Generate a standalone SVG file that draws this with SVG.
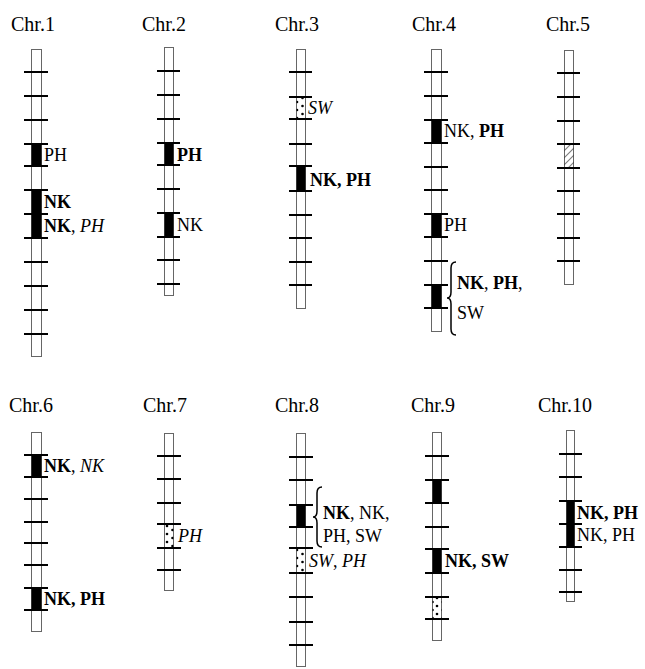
<svg xmlns="http://www.w3.org/2000/svg" width="645" height="669" viewBox="0 0 645 669">
<style>
.title{font-family:"Liberation Serif","Times New Roman",Tinos,"DejaVu Serif",serif;font-size:20px;fill:#000}
.lab{font-family:"Liberation Serif","Times New Roman",Tinos,"DejaVu Serif",serif;font-size:18px;fill:#000}
.b{font-weight:bold}
.i{font-style:italic}
.chr{fill:#fff;stroke:#666;stroke-width:1}
.tick{stroke:#000;stroke-width:2}
.blk{fill:#000}
.dot{fill:url(#dots)}
.hat{fill:url(#hatch)}
.brace{fill:none;stroke:#000;stroke-width:1.5}
</style>
<defs>
<pattern id="dots" patternUnits="userSpaceOnUse" width="10" height="8">
<circle cx="2.5" cy="2" r="1.3" fill="#000"/>
<circle cx="7" cy="6" r="1.3" fill="#000"/>
</pattern>
<pattern id="hatch" patternUnits="userSpaceOnUse" width="5" height="5" patternTransform="rotate(45)">
<line x1="0" y1="0" x2="0" y2="5" stroke="#000" stroke-width="1"/>
</pattern>
</defs>
<rect width="645" height="669" fill="#fff"/>

<g id="chr1">
<text class="title" x="11" y="31">Chr.1</text>
<rect class="chr" x="31.5" y="49.5" width="10" height="307"/>
<rect class="blk" x="31.5" y="144" width="10" height="22"/>
<rect class="blk" x="31.5" y="190" width="10" height="48"/>
<g class="tick"><line x1="24" x2="48" y1="72" y2="72"/><line x1="24" x2="48" y1="96" y2="96"/><line x1="24" x2="48" y1="120" y2="120"/><line x1="24" x2="48" y1="144" y2="144"/><line x1="24" x2="48" y1="166" y2="166"/><line x1="24" x2="48" y1="190" y2="190"/><line x1="24" x2="48" y1="214" y2="214"/><line x1="24" x2="48" y1="238" y2="238"/><line x1="24" x2="48" y1="262" y2="262"/><line x1="24" x2="48" y1="286" y2="286"/><line x1="24" x2="48" y1="310" y2="310"/><line x1="24" x2="48" y1="334" y2="334"/></g>
<text class="lab" x="44" y="161">PH</text>
<text class="lab b" x="44" y="208">NK</text>
<text class="lab" x="44" y="232"><tspan class="b">NK</tspan>, <tspan class="i">PH</tspan></text>
</g>

<g id="chr2">
<text class="title" x="142" y="31">Chr.2</text>
<rect class="chr" x="164.5" y="47.5" width="9" height="248"/>
<rect class="blk" x="164.5" y="143" width="9" height="22"/>
<rect class="blk" x="164.5" y="213" width="9" height="24"/>
<g class="tick"><line x1="157" x2="180" y1="71" y2="71"/><line x1="157" x2="180" y1="95" y2="95"/><line x1="157" x2="180" y1="119" y2="119"/><line x1="157" x2="180" y1="143" y2="143"/><line x1="157" x2="180" y1="165" y2="165"/><line x1="157" x2="180" y1="189" y2="189"/><line x1="157" x2="180" y1="213" y2="213"/><line x1="157" x2="180" y1="237" y2="237"/><line x1="157" x2="180" y1="260" y2="260"/><line x1="157" x2="180" y1="284" y2="284"/></g>
<text class="lab b" x="177" y="161">PH</text>
<text class="lab" x="177" y="231">NK</text>
</g>

<g id="chr3">
<text class="title" x="275" y="31">Chr.3</text>
<rect class="chr" x="296.5" y="49.5" width="9" height="259"/>
<rect class="dot" x="296.5" y="97" width="9" height="22"/>
<rect class="blk" x="296.5" y="166" width="9" height="25"/>
<g class="tick"><line x1="289" x2="312" y1="72" y2="72"/><line x1="289" x2="312" y1="97" y2="97"/><line x1="289" x2="312" y1="119" y2="119"/><line x1="289" x2="312" y1="144" y2="144"/><line x1="289" x2="312" y1="166" y2="166"/><line x1="289" x2="312" y1="191" y2="191"/><line x1="289" x2="312" y1="215" y2="215"/><line x1="289" x2="312" y1="238" y2="238"/><line x1="289" x2="312" y1="262" y2="262"/><line x1="289" x2="312" y1="285" y2="285"/></g>
<text class="lab i" x="308" y="114">SW</text>
<text class="lab b" x="310" y="186">NK, PH</text>
</g>

<g id="chr4">
<text class="title" x="412" y="31">Chr.4</text>
<rect class="chr" x="431.5" y="49.5" width="10" height="282"/>
<rect class="blk" x="431.5" y="120" width="10" height="23"/>
<rect class="blk" x="431.5" y="214" width="10" height="23"/>
<rect class="blk" x="431.5" y="285" width="10" height="23"/>
<g class="tick"><line x1="424" x2="448" y1="72" y2="72"/><line x1="424" x2="448" y1="96" y2="96"/><line x1="424" x2="448" y1="120" y2="120"/><line x1="424" x2="448" y1="143" y2="143"/><line x1="424" x2="448" y1="167" y2="167"/><line x1="424" x2="448" y1="190" y2="190"/><line x1="424" x2="448" y1="214" y2="214"/><line x1="424" x2="448" y1="237" y2="237"/><line x1="424" x2="448" y1="261" y2="261"/><line x1="424" x2="448" y1="285" y2="285"/><line x1="424" x2="448" y1="308" y2="308"/></g>
<text class="lab" x="444" y="137">NK, <tspan class="b">PH</tspan></text>
<text class="lab" x="444" y="231">PH</text>
<path class="brace" d="M456,262 Q451,262 451,268 L451,292 Q451,298 447,298 Q451,298 451,304 L451,329 Q451,335 456,335"/>
<text class="lab" x="457" y="289"><tspan class="b">NK</tspan>, <tspan class="b">PH</tspan>,</text>
<text class="lab" x="457" y="319">SW</text>
</g>

<g id="chr5">
<text class="title" x="546" y="31">Chr.5</text>
<rect class="chr" x="564.5" y="50.5" width="9" height="234"/>
<rect class="hat" x="564.5" y="145" width="9" height="22"/>
<g class="tick"><line x1="557" x2="580" y1="73" y2="73"/><line x1="557" x2="580" y1="97" y2="97"/><line x1="557" x2="580" y1="121" y2="121"/><line x1="557" x2="580" y1="144" y2="144"/><line x1="557" x2="580" y1="168" y2="168"/><line x1="557" x2="580" y1="191" y2="191"/><line x1="557" x2="580" y1="214" y2="214"/><line x1="557" x2="580" y1="238" y2="238"/><line x1="557" x2="580" y1="261" y2="261"/></g>
</g>

<g id="chr6">
<text class="title" x="9" y="412">Chr.6</text>
<rect class="chr" x="31.5" y="432.5" width="10" height="199"/>
<rect class="blk" x="31.5" y="455" width="10" height="22"/>
<rect class="blk" x="31.5" y="588" width="10" height="22"/>
<g class="tick"><line x1="24" x2="48" y1="455" y2="455"/><line x1="24" x2="48" y1="477" y2="477"/><line x1="24" x2="48" y1="499" y2="499"/><line x1="24" x2="48" y1="522" y2="522"/><line x1="24" x2="48" y1="543" y2="543"/><line x1="24" x2="48" y1="565" y2="565"/><line x1="24" x2="48" y1="588" y2="588"/><line x1="24" x2="48" y1="610" y2="610"/></g>
<text class="lab" x="44" y="472"><tspan class="b">NK</tspan>, <tspan class="i">NK</tspan></text>
<text class="lab b" x="44" y="605">NK, PH</text>
</g>

<g id="chr7">
<text class="title" x="143" y="412">Chr.7</text>
<rect class="chr" x="164.5" y="433.5" width="9" height="157"/>
<rect class="dot" x="164.5" y="524" width="9" height="24"/>
<g class="tick"><line x1="157" x2="181" y1="456" y2="456"/><line x1="157" x2="181" y1="479" y2="479"/><line x1="157" x2="181" y1="503" y2="503"/><line x1="157" x2="181" y1="524" y2="524"/><line x1="157" x2="181" y1="548" y2="548"/><line x1="157" x2="181" y1="570" y2="570"/></g>
<text class="lab i" x="178" y="542">PH</text>
</g>

<g id="chr8">
<text class="title" x="275" y="412">Chr.8</text>
<rect class="chr" x="296.5" y="433.5" width="9" height="233"/>
<rect class="blk" x="296.5" y="505" width="9" height="22"/>
<rect class="dot" x="296.5" y="548" width="9" height="25"/>
<g class="tick"><line x1="289" x2="313" y1="457" y2="457"/><line x1="289" x2="313" y1="480" y2="480"/><line x1="289" x2="313" y1="505" y2="505"/><line x1="289" x2="313" y1="527" y2="527"/><line x1="289" x2="313" y1="548" y2="548"/><line x1="289" x2="313" y1="573" y2="573"/><line x1="289" x2="313" y1="597" y2="597"/><line x1="289" x2="313" y1="622" y2="622"/><line x1="289" x2="313" y1="645" y2="645"/></g>
<path class="brace" d="M322,487 Q317,487 317,493 L317,511 Q317,517 313,517 Q317,517 317,523 L317,541 Q317,547 322,547"/>
<text class="lab" x="323" y="519"><tspan class="b">NK</tspan>, NK,</text>
<text class="lab" x="323" y="542">PH, SW</text>
<text class="lab" x="309" y="567"><tspan class="i">SW</tspan>, <tspan class="i">PH</tspan></text>
</g>

<g id="chr9">
<text class="title" x="411" y="412">Chr.9</text>
<rect class="chr" x="432.5" y="432.5" width="9" height="208"/>
<rect class="blk" x="432.5" y="480" width="9" height="23"/>
<rect class="blk" x="432.5" y="549" width="9" height="24"/>
<rect class="dot" x="432.5" y="597" width="9" height="22"/>
<g class="tick"><line x1="425" x2="449" y1="456" y2="456"/><line x1="425" x2="449" y1="480" y2="480"/><line x1="425" x2="449" y1="503" y2="503"/><line x1="425" x2="449" y1="527" y2="527"/><line x1="425" x2="449" y1="549" y2="549"/><line x1="425" x2="449" y1="573" y2="573"/><line x1="425" x2="449" y1="597" y2="597"/><line x1="425" x2="449" y1="619" y2="619"/></g>
<text class="lab b" x="445" y="567">NK, SW</text>
</g>

<g id="chr10">
<text class="title" x="538" y="412">Chr.10</text>
<rect class="chr" x="566.5" y="430.5" width="8" height="171"/>
<rect class="blk" x="566.5" y="501" width="8" height="46"/>
<g class="tick"><line x1="559" x2="582" y1="454" y2="454"/><line x1="559" x2="582" y1="477" y2="477"/><line x1="559" x2="582" y1="501" y2="501"/><line x1="559" x2="582" y1="524" y2="524"/><line x1="559" x2="582" y1="547" y2="547"/><line x1="559" x2="582" y1="570" y2="570"/><line x1="559" x2="582" y1="592" y2="592"/></g>
<text class="lab b" x="577" y="519">NK, PH</text>
<text class="lab" x="577" y="541">NK, PH</text>
</g>
</svg>
